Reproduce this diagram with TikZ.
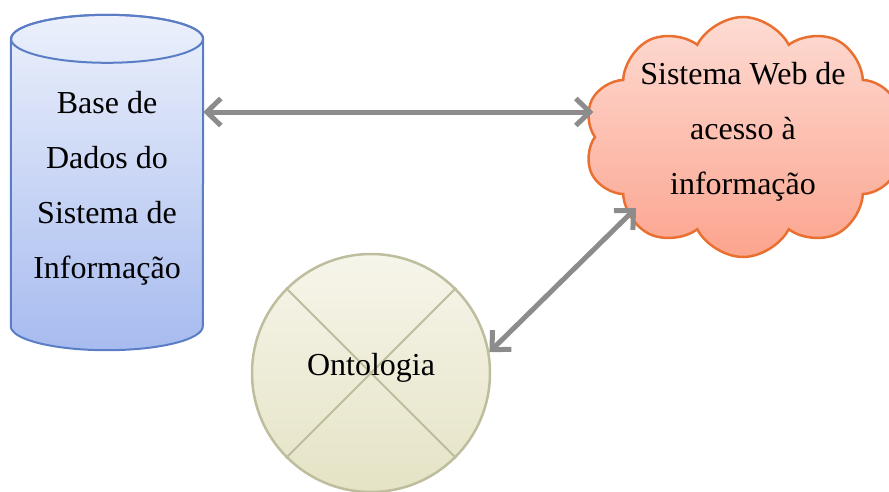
\documentclass[tikz,border=0pt]{standalone}
\usepackage{fontspec}
\setmainfont{Liberation Serif}
\usetikzlibrary{shapes.symbols,arrows.meta}

\definecolor{dbline}{HTML}{5A7DC6}
\definecolor{dbtop}{HTML}{EBF0FB}
\definecolor{dbbottom}{HTML}{A7BBEF}
\definecolor{webline}{HTML}{EA7032}
\definecolor{webtop}{HTML}{FDDBD3}
\definecolor{webbottom}{HTML}{FCA48E}
\definecolor{ontoline}{HTML}{BEBD9E}
\definecolor{ontotop}{HTML}{F6F5EA}
\definecolor{ontobottom}{HTML}{E5E3C5}
\definecolor{flowgray}{HTML}{8C8C8C}

\tikzset{
    label text/.style={font=\fontsize{32}{55}\selectfont, align=center},
    flow/.style={draw=flowgray, line width=5pt,
        {Straight Barb[length=14pt,width=27pt]}-{Straight Barb[length=14pt,width=27pt]}}
}

\begin{document}
\begin{tikzpicture}[x=1pt,y=-1pt]
    \useasboundingbox (0,0) rectangle (889,491);

    % base de dados (cylinder)
    \node[minimum width=192pt, minimum height=287pt] (db) at (107,182.5) {};
    \path[draw=dbline, line width=2pt, top color=dbtop, bottom color=dbbottom]
        (db.north west) -- (db.south west)
        arc[start angle=180, end angle=360, x radius=96pt, y radius=24pt]
        -- (db.north east)
        arc[start angle=0, end angle=180, x radius=96pt, y radius=24pt] -- cycle;
    \draw[dbline, line width=2pt] (db.north) ellipse[x radius=96pt, y radius=24pt];
    \node[label text] (dbtext) at ([yshift=-6pt]db.center)
        {Base de\\Dados do\\Sistema de\\Informa\c{c}\~ao};

    % sistema web
    \node[cloud, cloud puffs=10, cloud puff arc=125, aspect=1.3,
        minimum width=318pt, minimum height=240pt,
        draw=webline, line width=2.5pt, top color=webtop, bottom color=webbottom]
        (web) at (743,137) {};
    \node[label text] (webtext) at ([yshift=5pt]web.center)
        {Sistema Web de\\acesso \`a\\informa\c{c}\~ao};

    % ontologia
    \node[circle, minimum size=238pt, draw=ontoline, line width=2.5pt,
        top color=ontotop, bottom color=ontobottom] (onto) at (371,373) {};
    \draw[ontoline, line width=2pt] (onto.45) -- (onto.225);
    \draw[ontoline, line width=2pt] (onto.135) -- (onto.315);
    \node[label text] (ontotext) at ([yshift=5pt]onto.center) {Ontologia};

    % ligacoes
    \draw[flow] ([yshift=70.5pt]db.east) -- ([yshift=70.5pt]db.east -| web.west);
    \draw[flow] (onto.10) -- ([shift={(-107,71)}]web.center);
\end{tikzpicture}
\end{document}
